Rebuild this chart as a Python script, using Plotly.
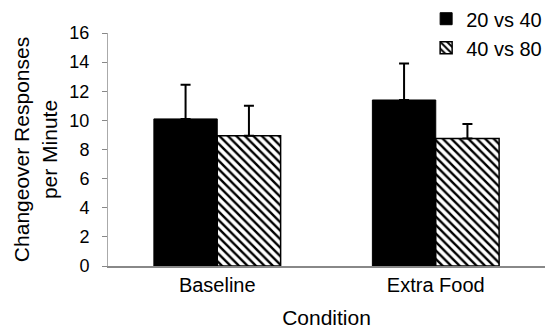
import plotly.graph_objects as go

categories = ["Baseline", "Extra Food"]
series_names = ["20 vs 40", "40 vs 80"]
means_20v40 = [10.1, 11.4]
err_20v40 = [2.35, 2.5]
means_40v80 = [8.95, 8.75]
err_40v80 = [2.05, 1.0]
y_ticks = [0, 2, 4, 6, 8, 10, 12, 14, 16]

font = "Liberation Sans, Arial, sans-serif"

fig = go.Figure()
fig.add_trace(go.Bar(
    x=categories, y=means_20v40, name=series_names[0],
    marker=dict(color="black", line=dict(color="black", width=1)),
    error_y=dict(type="data", array=err_20v40, arrayminus=[0, 0], symmetric=False,
                 color="black", thickness=2, width=5),
))
fig.add_trace(go.Bar(
    x=categories, y=means_40v80, name=series_names[1],
    marker=dict(color="white", line=dict(color="black", width=1.5),
                pattern=dict(shape="\\", fgcolor="black", bgcolor="white", fgopacity=1,
                             size=6, solidity=0.4)),
    error_y=dict(type="data", array=err_40v80, arrayminus=[0, 0], symmetric=False,
                 color="black", thickness=2, width=5),
))

fig.update_layout(
    width=554, height=333,
    margin=dict(l=100, r=17, t=25, b=75, autoexpand=False),
    paper_bgcolor="white", plot_bgcolor="white",
    barmode="group", bargap=0.42, bargroupgap=0,
    font=dict(family=font, color="black", size=20),
    showlegend=True,
    legend=dict(x=0.728, y=1.145, xanchor="left", yanchor="top",
                font=dict(size=20), bgcolor="rgba(0,0,0,0)",
                itemwidth=30, tracegroupgap=0),
    xaxis=dict(
        automargin=False,
        showline=True, linecolor="#888", linewidth=1.5,
        ticks="", tickfont=dict(size=20),
        title=dict(text="Condition", font=dict(size=21), standoff=16),
    ),
    yaxis=dict(
        automargin=False,
        range=[0, 16], tickvals=y_ticks, showgrid=False, zeroline=False,
        showline=True, linecolor="#aaa", linewidth=1,
        ticks="outside", ticklen=5, tickcolor="#888",
        tickfont=dict(size=18), ticklabelstandoff=9,
        title=dict(text="Changeover Responses<br>per Minute", font=dict(size=21), standoff=6),
    ),
)

fig.write_html("out.html")
